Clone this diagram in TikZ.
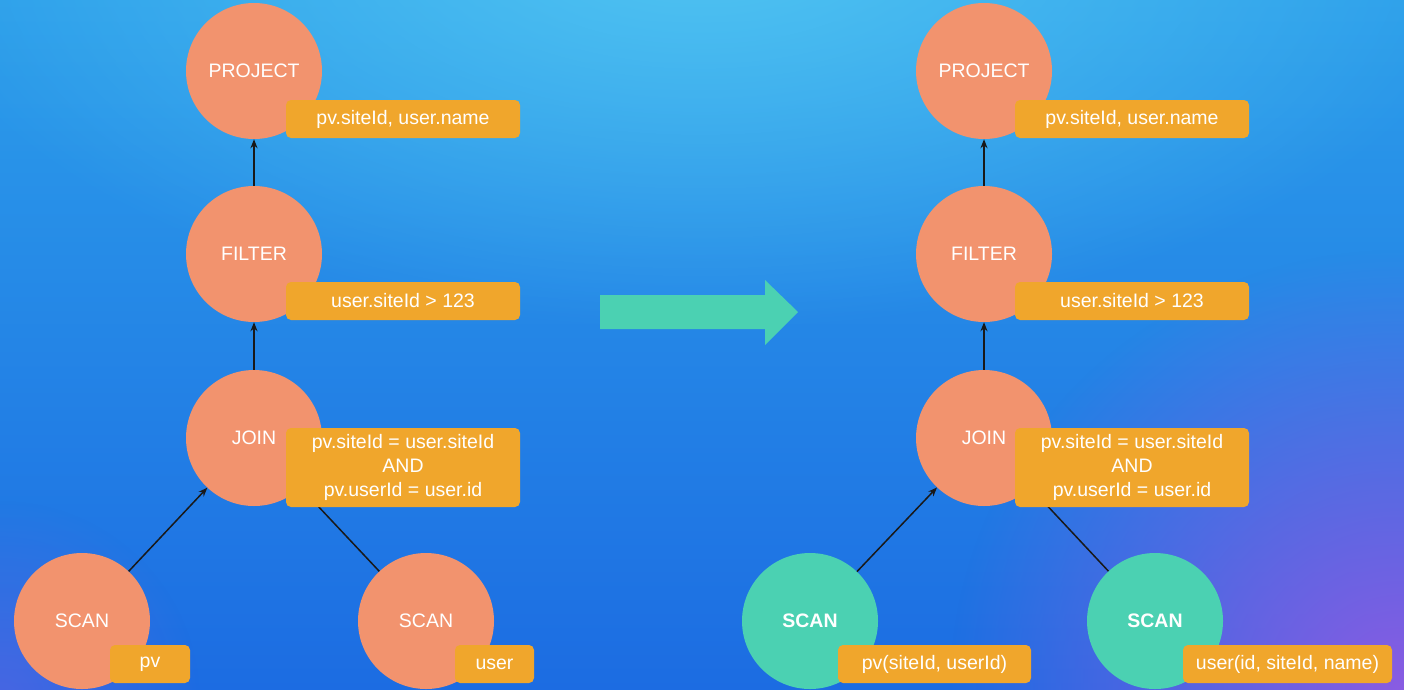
\documentclass[tikz,border=0pt]{standalone}
\usepackage{fontspec}
\setmainfont{Liberation Sans}
\usetikzlibrary{arrows.meta,fadings}
\tikzfading[name=glow, inner color=transparent!0, outer color=transparent!100]
\definecolor{orangec}{HTML}{F2936E}
\definecolor{greenc}{HTML}{4BD1B2}
\definecolor{labelc}{HTML}{F0A62C}
\definecolor{bgtop}{HTML}{2C9EEA}
\definecolor{bgbot}{HTML}{1C6CE2}
\definecolor{glowtop}{HTML}{55C9F3}
\definecolor{glowpurple}{HTML}{8A5CE2}
\begin{document}
\begin{tikzpicture}[x=1pt,y=-1pt,
  op/.style={circle, fill=orangec, minimum size=136pt, inner sep=0pt, text=white, font=\fontsize{19.5}{23}\selectfont},
  scanop/.style={op, fill=greenc, font=\fontsize{19.5}{23}\selectfont\bfseries},
  lbl/.style={rectangle, rounded corners=5pt, fill=labelc, text=white, inner sep=0pt, align=center, minimum height=38pt, font=\fontsize{19.5}{24}\selectfont},
  conn/.style={draw=black!90, line width=1.5pt, -{Stealth[length=9pt,width=7pt]}},
  bigarrow/.style={fill=greenc}
]
\useasboundingbox (0,0) rectangle (1404,689);
\begin{scope}
\clip (0,0) rectangle (1404,689);
\shade[top color=bgtop, bottom color=bgbot] (0,0) rectangle (1404,689);
\fill[glowtop, opacity=0.9, path fading=glow] (-100,-450) rectangle (1500,330);
\fill[glowpurple, path fading=glow] (950,250) rectangle (1850,1130);
\fill[glowpurple, opacity=0.4, path fading=glow] (-200,500) rectangle (200,900);
\end{scope}

% big arrow
\fill[bigarrow] (600,295) -- (765,295) -- (765,280) -- (798,312) -- (765,345) -- (765,329) -- (600,329) -- cycle;

% left tree
\node[op] (projL) at (254,71) {PROJECT};
\node[op] (filtL) at (254,254) {FILTER};
\node[op] (joinL) at (254,438) {JOIN};
\node[op] (scanpvL) at (82,621) {SCAN};
\node[op] (scanuL) at (426,621) {SCAN};

% right tree
\node[op] (projR) at (984,71) {PROJECT};
\node[op] (filtR) at (984,254) {FILTER};
\node[op] (joinR) at (984,438) {JOIN};
\node[scanop] (scanpvR) at (810,621) {SCAN};
\node[scanop] (scanuR) at (1155,621) {SCAN};

% connectors
\draw[conn] (filtL) -- (projL);
\draw[conn] (joinL) -- (filtL);
\draw[conn] (scanpvL) -- (joinL);
\draw[conn] (scanuL) -- (joinL);
\draw[conn] (filtR) -- (projR);
\draw[conn] (joinR) -- (filtR);
\draw[conn] (scanpvR) -- (joinR);
\draw[conn] (scanuR) -- (joinR);

% labels left
\node[lbl, minimum width=234pt] (lprojL) at (403,119) {pv.siteId, user.name};
\node[lbl, minimum width=234pt] (lfiltL) at (403,301) {user.siteId > 123};
\node[lbl, minimum width=234pt, minimum height=79pt] (ljoinL) at (403,467.5) {pv.siteId = user.siteId\\AND\\pv.userId = user.id};
\node[lbl, minimum width=80pt] (lpvL) at (150,664) {pv};
\node[lbl, minimum width=79pt] (luL) at (494.5,664) {user};

% labels right
\node[lbl, minimum width=234pt] (lprojR) at (1132,119) {pv.siteId, user.name};
\node[lbl, minimum width=234pt] (lfiltR) at (1132,301) {user.siteId > 123};
\node[lbl, minimum width=234pt, minimum height=79pt] (ljoinR) at (1132,467.5) {pv.siteId = user.siteId\\AND\\pv.userId = user.id};
\node[lbl, minimum width=193pt] (lpvR) at (934.5,664) {pv(siteId, userId)};
\node[lbl, minimum width=209pt] (luR) at (1287.5,664) {user(id, siteId, name)};
\end{tikzpicture}
\end{document}
